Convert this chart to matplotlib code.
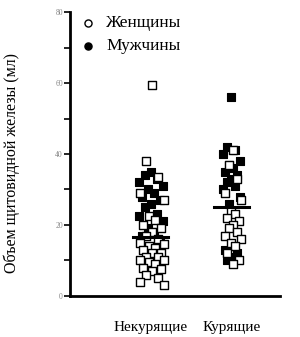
import numpy as np
import matplotlib.pyplot as plt

groups = ["Некурящие", "Курящие"]
women_nonsmoke = [59.5, 38, 33.5, 29, 27, 22.5, 21.5, 20, 19, 18, 17, 16, 15, 14.5,
                  14, 13.5, 13, 12, 12, 11, 11, 10, 10, 9.5, 9, 8, 7.5, 7, 6, 5, 4, 3]
men_nonsmoke = [35, 34, 33, 32, 31, 30, 29, 28, 27, 26, 25, 23, 22.5, 21, 19, 18,
                17, 15, 12, 8, 7]
women_smoke = [41, 37, 33, 29, 27, 24, 23, 22, 21, 20, 19, 18, 17, 16, 15, 14, 12, 10, 9]
men_smoke = [56, 42, 41, 40, 38, 37, 36, 35, 34, 33, 32, 31, 30, 28, 26, 14, 13, 12, 11, 10]
medians = [16.6, 25]

pattern = np.array([0, -1, 1, -2, 2, -0.5, 0.5, -1.5, 1.5])


def jitter(vals, center, step):
    off = pattern[np.arange(len(vals)) % len(pattern)] * step
    return center + off


plt.rcParams["font.family"] = ["Liberation Serif", "DejaVu Serif"]
fig = plt.figure(figsize=(3.0, 3.37), dpi=100)
ax = fig.add_axes([0.233, 0.122, 0.70, 0.842])

pos = [1, 2]
for p, w, m, st in [(pos[0], women_nonsmoke, men_nonsmoke, 0.075),
                    (pos[1], women_smoke, men_smoke, 0.05)]:
    ax.scatter(jitter(m, p, st), m, s=32, marker="s", c="black",
               edgecolors="black", linewidths=0.8, zorder=3)
    ax.scatter(jitter(w, p + 0.02, st), w, s=32, marker="s", c="white",
               edgecolors="black", linewidths=1.0, zorder=4)

for p, md in zip(pos, medians):
    ax.plot([p - 0.22, p + 0.22], [md, md], color="black", lw=2.2, zorder=5)

# legend
ax.scatter([0.22], [77], s=26, marker="o", c="white", edgecolors="black", linewidths=1.0)
ax.scatter([0.22], [70.5], s=26, marker="o", c="black", edgecolors="black")
ax.text(0.45, 77, "Женщины", fontsize=12.5, va="center")
ax.text(0.45, 70.5, "Мужчины", fontsize=12.5, va="center")

ax.set_xlim(0, 2.6)
ax.set_ylim(0, 80)
ax.set_yticks([0, 20, 40, 60, 80])
ax.set_yticks([10, 30, 50, 70], minor=True)
ax.set_yticklabels(["0", "20", "40", "60", "80"], fontsize=5.5, color="#888888")
ax.tick_params(axis="y", which="both", length=4, width=1.2, pad=1)
ax.set_xticks(pos)
ax.set_xticklabels(groups, fontsize=11)
ax.tick_params(axis="x", length=0, pad=18)

ax.spines["top"].set_visible(False)
ax.spines["right"].set_visible(False)
ax.spines["left"].set_linewidth(2)
ax.spines["bottom"].set_linewidth(2)

ax.set_ylabel("Объем щитовидной железы (мл)", fontsize=11.5)
ax.yaxis.set_label_coords(-0.24, 0.47)

fig.savefig("out.png", dpi=100)
